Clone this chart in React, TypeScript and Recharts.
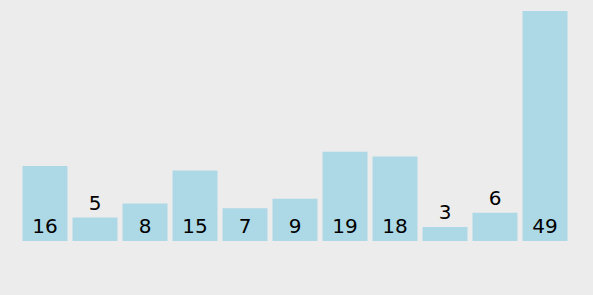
import React from "react";
import { BarChart, Bar, XAxis, YAxis, LabelList } from "recharts";

const categories = ["A", "B", "C", "D", "E", "F", "G", "H", "I", "J", "K"];
const values = [16, 5, 8, 15, 7, 9, 19, 18, 3, 6, 49];

const data = categories.map((c, i) => ({ name: c, value: values[i] }));

const BarLabel = (props: any) => {
  const { x, y, width, height, value } = props;
  const inside = height >= 30;
  const ty = inside ? y + height - 8 : y - 8;
  return (
    <text
      x={x + width / 2}
      y={ty}
      textAnchor="middle"
      fontSize={20}
      fontFamily="DejaVu Sans, sans-serif"
      fill="#000"
    >
      {value}
    </text>
  );
};

export default function App() {
  return (
    <div
      style={{
        position: "absolute",
        left: 0,
        top: 0,
        width: 593,
        height: 295,
        background: "#ececec",
      }}
    >
      <BarChart
        width={593}
        height={295}
        data={data}
        margin={{ top: 11, bottom: 54, left: 19.5, right: 23.5 }}
        barCategoryGap={5}
      >
        <XAxis dataKey="name" hide />
        <YAxis hide domain={[0, 49]} />
        <Bar dataKey="value" fill="#add8e6" barSize={45} isAnimationActive={false}>
          <LabelList dataKey="value" content={<BarLabel />} />
        </Bar>
      </BarChart>
    </div>
  );
}
